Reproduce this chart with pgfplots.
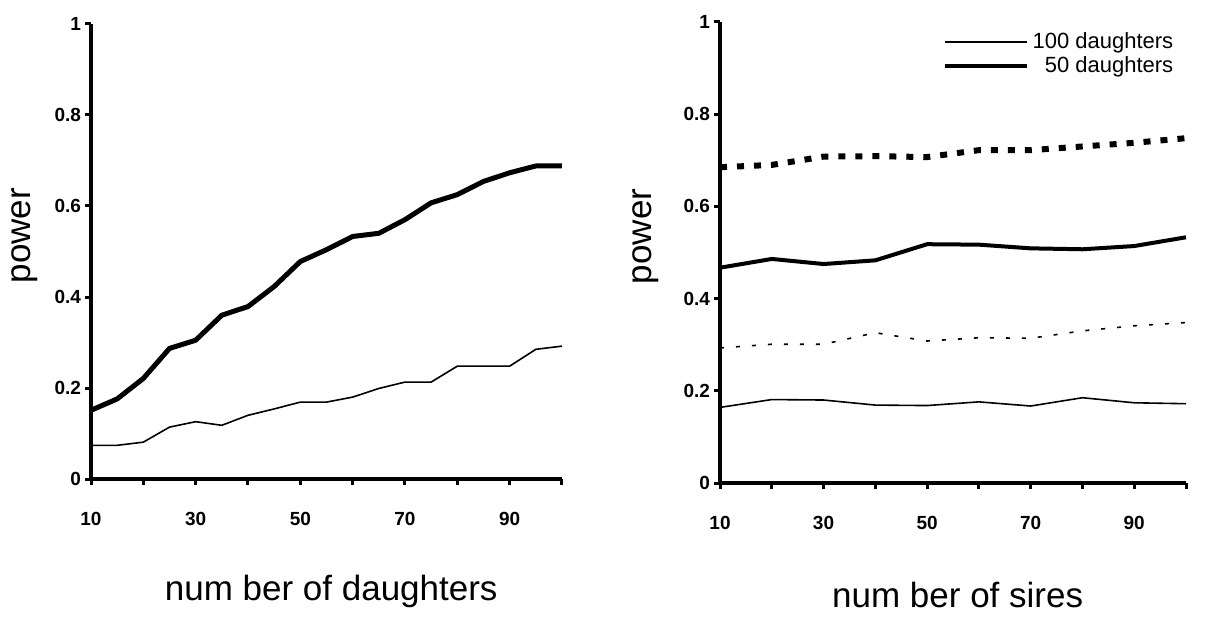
\documentclass[border=0pt]{standalone}
\usepackage{fontspec}
\setmainfont{Liberation Sans}
\usepackage{pgfplots}
\pgfplotsset{compat=1.18}

\pgfplotsset{
  powerplot/.style={
    scale only axis,
    axis lines=left,
    axis line style={line width=2pt, -},
    xmin=10, xmax=100, ymin=0, ymax=1,
    xtick={10,20,...,100},
    xticklabels={10,,30,,50,,70,,90,},
    ytick={0,0.2,0.4,0.6,0.8,1},
    yticklabels={0,0.2,0.4,0.6,0.8,1},
    tick align=outside,
    major tick length=3pt,
    tick style={line width=1.5pt, black},
    ticklabel style={font=\fontsize{9.5}{11}\selectfont\bfseries},
    xticklabel style={yshift=-10pt},
    yticklabel style={xshift=1.5pt},
    /pgf/number format/assume math mode=true,
    label style={font=\fontsize{17.5}{20}\selectfont},
    clip=false,
  },
  thin/.style={black, line width=0.8pt},
}

\begin{document}
\begin{tikzpicture}
\path[use as bounding box] (0,0) rectangle (604.5pt,308pt);

% left panel: power against number of daughters
\begin{axis}[powerplot,
    at={(45.5pt,68.5pt)}, anchor=south west,
    width=235.5pt, height=227.5pt,
    xlabel={num ber of daughters},
    ylabel={power},
    xlabel style={at={(axis description cs:0.51,0)}, anchor=base, yshift=-60.5pt},
    ylabel style={at={(axis description cs:-0.128,0.535)}, anchor=base},
]
\addplot[black, line width=2.5pt, line join=round] coordinates {
  (10,0.151) (15,0.176) (20,0.221) (25,0.287) (30,0.305) (35,0.360)
  (40,0.379) (45,0.423) (50,0.478) (55,0.504) (60,0.533) (65,0.540)
  (70,0.570) (75,0.607) (80,0.625) (85,0.654) (90,0.673) (95,0.688)
  (100,0.688)
};
\addplot[thin] coordinates {
  (10,0.074) (15,0.074) (20,0.081) (25,0.114) (30,0.126) (35,0.118)
  (40,0.140) (45,0.154) (50,0.169) (55,0.169) (60,0.180) (65,0.199)
  (70,0.213) (75,0.213) (80,0.248) (85,0.248) (90,0.248) (95,0.285)
  (100,0.292)
};
\end{axis}

% right panel: power against number of sires
\begin{axis}[powerplot,
    at={(360pt,66.5pt)}, anchor=south west,
    width=233pt, height=230.5pt,
    xlabel={num ber of sires},
    ylabel={power},
    xlabel style={at={(axis description cs:0.51,0)}, anchor=base, yshift=-62pt},
    ylabel style={at={(axis description cs:-0.146,0.535)}, anchor=base},
    legend style={draw=none, fill=none,
      at={(axis description cs:0.995,0.995)}, anchor=north east,
      font=\fontsize{11}{12.5}\selectfont, row sep=-1.5pt},
    legend cell align=right,
    legend image code/.code={\draw[#1] (0pt,0pt) -- (41pt,0pt);},
]
\addplot[thin] coordinates {
  (10,0.164) (20,0.181) (30,0.180) (40,0.169) (50,0.168)
  (60,0.176) (70,0.167) (80,0.185) (90,0.174) (100,0.172)
};
\addlegendentry{100 daughters}
\addplot[black, line width=2pt] coordinates {
  (10,0.467) (20,0.486) (30,0.475) (40,0.483) (50,0.518)
  (60,0.517) (70,0.509) (80,0.507) (90,0.514) (100,0.533)
};
\addlegendentry{50 daughters}
\addplot[black, line width=3pt, dash pattern=on 3.5pt off 5pt, forget plot] coordinates {
  (10,0.685) (20,0.690) (30,0.708) (40,0.709) (50,0.707)
  (60,0.722) (70,0.722) (80,0.730) (90,0.738) (100,0.748)
};
\addplot[black, line width=0.8pt, dash pattern=on 2pt off 6pt, forget plot] coordinates {
  (10,0.293) (20,0.301) (30,0.301) (40,0.326) (50,0.308)
  (60,0.315) (70,0.314) (80,0.330) (90,0.341) (100,0.348)
};
\end{axis}
\end{tikzpicture}
\end{document}
